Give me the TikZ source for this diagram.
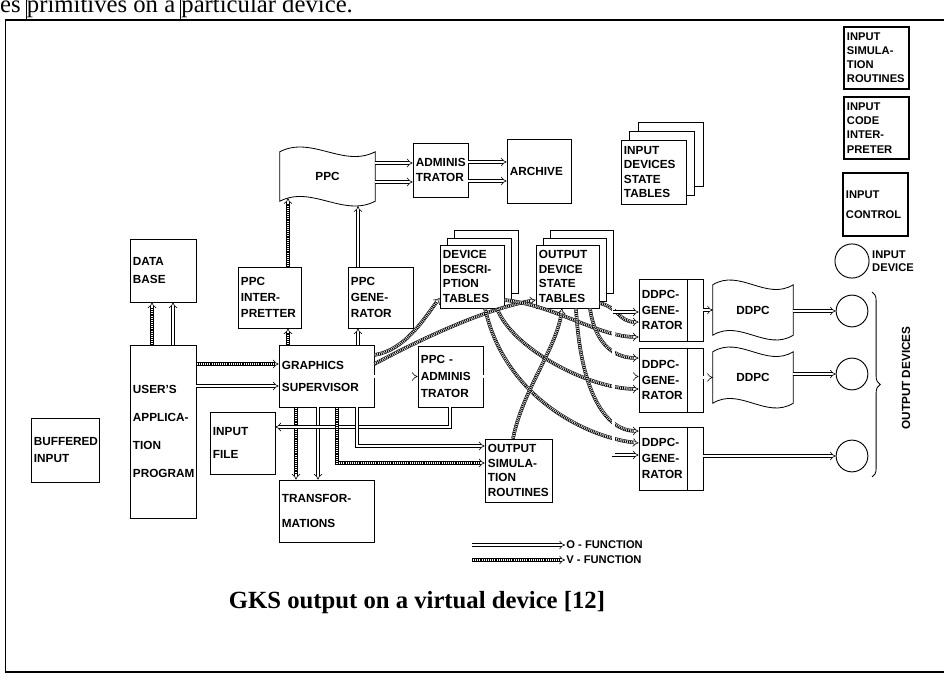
\documentclass[tikz,border=0pt]{standalone}
\usepackage{fontspec}
\setmainfont{Liberation Serif}
\setsansfont{Liberation Sans}
\usetikzlibrary{arrows.meta,calc,shadows,decorations.pathreplacing}

\newcommand{\boxfont}{\sffamily\bfseries\fontsize{10}{12.3}\selectfont}
\newcommand{\sideboxfont}{\sffamily\bfseries\fontsize{9.5}{12}\selectfont}
\newcommand{\legendfont}{\sffamily\bfseries\fontsize{9.5}{11}\selectfont}

% wavy outline of a paper tape (PPC, DDPC)
\newcommand{\tapeoutline}[1]{%
  \draw[line width=0.7pt] let \p1=(#1.north west), \p2=(#1.south east), \n1={(\x2-\x1)/3} in
    (\p1) .. controls (\x1+\n1,\y1+14pt) and (\x2-\n1,\y1-14pt) .. (\x2,\y1)
    -- (\p2) .. controls (\x2-\n1,\y2-14pt) and (\x1+\n1,\y2+14pt) .. (\x1,\y2) -- cycle;}

\tikzset{
  box/.style={draw, line width=0.7pt, fill=white, inner xsep=2.5pt, inner ysep=0pt, align=left, font=\boxfont},
  boxdim/.code 2 args={%
    \pgfmathsetlengthmacro\boxw{#1*0.85pt-5pt}%
    \pgfmathsetlengthmacro\boxh{#2*0.85pt}%
    \tikzset{text width=\boxw, minimum height=\boxh}},
  sidebox/.style={box, line width=1pt, font=\sideboxfont},
  stack/.style 2 args={box, copy shadow={shadow xshift=#2, shadow yshift=#2},
    copy shadow={shadow xshift=#1, shadow yshift=#1}},
  tape/.style={inner xsep=2.5pt, inner ysep=0pt, align=center, font=\boxfont},
  dev/.style={circle, draw, line width=0.8pt, inner sep=0pt, minimum size=27pt},
  ofun/.style={draw, line width=0.5pt, double, double distance=2pt, -{Implies}},
  vfun/.style={ofun, postaction={draw, -, line width=2pt, dash pattern=on 0.8pt off 0.8pt, shorten >=4pt}}
}

\begin{document}
\begin{tikzpicture}[x=0.85pt,y=-0.85pt]
  \fill[white] (0,0) rectangle (944,681);
  \useasboundingbox (0,0) rectangle (944,681);

  % page around the figure
  \node[font=\fontsize{21}{23}\selectfont, anchor=base west, inner sep=0pt] (prevline) at (0,13) {es primitives on a particular device.};
  \draw[line width=0.6pt] (26,0) -- (26,20) (180,0) -- (180,20);
  \draw[line width=1.2pt] (5,20) -- (944,20);
  \draw[line width=0.8pt] (5,20) -- (5,672);
  \draw[line width=1.2pt] (5,672) -- (944,672);

  % input side
  \node[sidebox, boxdim={65}{62}] (insim) at (876.5,58) {INPUT\\SIMULA-\\TION\\ROUTINES};
  \node[sidebox, boxdim={65}{62}] (incode) at (876.5,128) {INPUT\\CODE\\INTER-\\PRETER};
  \node[sidebox, boxdim={65}{63}] (inctrl) at (875.5,204.5) {INPUT\\[5pt]CONTROL};
  \node[dev, minimum size=29pt] (indev) at (852,261) {};
  \node[font=\sffamily\bfseries\fontsize{9.5}{11}\selectfont, align=left, anchor=west, inner sep=0pt] (indevtext) at (872,261) {INPUT\\DEVICE};
  \node[stack={7.5pt}{15pt}, boxdim={65}{64}] (idst) at (653.5,172) {INPUT\\DEVICES\\STATE\\TABLES};
  \node[box, boxdim={68}{64}] (buff) at (65,450) {BUFFERED\\[2pt]INPUT};

  % picture part
  \node[tape, boxdim={95}{49}] (ppc) at (327.5,176.5) {PPC};
  \tapeoutline{ppc}
  \node[box, boxdim={55}{54}] (adm) at (440.5,170) {ADMINIS\\TRATOR};
  \node[box, boxdim={64}{64}] (arch) at (539,171) {ARCHIVE};
  \node[box, boxdim={66}{63}] (base) at (163,270.5) {DATA\\[3.5pt]BASE};
  \node[box, boxdim={63}{61}] (pint) at (269.5,297.5) {PPC\\[1.5pt]INTER-\\[1.5pt]PRETTER};
  \node[box, boxdim={65}{61}] (pgen) at (380.5,297.5) {PPC\\[1.5pt]GENE-\\[1.5pt]RATOR};
  \node[box, boxdim={66}{173}] (user) at (163,431.5) {USER'S\\[11.5pt]APPLICA-\\[11.5pt]TION\\[11.5pt]PROGRAM};
  \node[box, boxdim={95}{62}] (gs) at (326.5,376) {GRAPHICS\\[6.4pt]SUPERVISOR};
  \node[box, boxdim={65}{61}] (padm) at (450.5,376.5) {PPC -\\[2.5pt]ADMINIS\\[2.5pt]TRATOR};
  \node[box, boxdim={65}{62}] (ifile) at (242.5,443) {INPUT\\[7.7pt]FILE};
  \node[box, boxdim={95}{62}] (transf) at (326.5,511) {TRANSFOR-\\[8.7pt]MATIONS};
  \node[box, boxdim={67}{63}] (osim) at (518.5,470.5) {OUTPUT\\SIMULA-\\TION\\ROUTINES};
  \node[stack={6pt}{12pt}, boxdim={64}{63}] (ddt) at (472,276.5) {DEVICE\\DESCRI-\\PTION\\TABLES};
  \node[stack={6pt}{12pt}, boxdim={63}{63}] (odst) at (567.5,276.5) {OUTPUT\\DEVICE\\STATE\\TABLES};

  % device part
  \node[box, boxdim={64}{62}] (gen1) at (671,310) {DDPC-\\[1pt]GENE-\\[1pt]RATOR};
  \node[box, boxdim={64}{64}] (gen2) at (671,380) {DDPC-\\[1pt]GENE-\\[1pt]RATOR};
  \node[box, boxdim={64}{63}] (gen3) at (671,458.5) {DDPC-\\[1pt]GENE-\\[1pt]RATOR};
  \foreach \g in {gen1,gen2,gen3}
    \draw[line width=0.7pt] ([xshift=-13.6pt]\g.north east) -- ([xshift=-13.6pt]\g.south east);
  \node[tape, boxdim={80}{50}] (ddpc1) at (753,310) {DDPC};
  \tapeoutline{ddpc1}
  \node[tape, boxdim={80}{51}] (ddpc2) at (753,377.5) {DDPC};
  \tapeoutline{ddpc2}
  \node[dev] (dev1) at (852,311) {};
  \node[dev] (dev2) at (852,374) {};
  \node[dev] (dev3) at (852,456) {};
  \draw[line width=0.7pt, decorate, decoration={brace, amplitude=7pt}] (872,292) -- (872,477);
  \node[font=\boxfont, rotate=90] (outdev) at (906,378) {OUTPUT DEVICES};

  % archive
  \draw[ofun] (ppc.east |- 0,163) -- (adm.west |- 0,163);
  \draw[ofun] (ppc.east |- 0,182) -- (adm.west |- 0,182);
  \draw[ofun] (adm.east |- 0,162) -- (arch.west |- 0,162);
  \draw[ofun] (adm.east |- 0,181) -- (arch.west |- 0,181);

  % supervisor and ppc
  \draw[vfun] (gs.north -| 288,0) -- (pint.south -| 288,0);
  \draw[vfun] (pint.north -| 288,0) -- ($(ppc.south -| 288,0)+(0,-3)$);
  \draw[ofun] (gs.north -| 358,0) -- (pgen.south -| 358,0);
  \draw[ofun] (pgen.north -| 358,0) -- ($(ppc.south -| 358,0)+(0,5)$);
  \draw[vfun] (user.north -| 152,0) -- (base.south -| 152,0);
  \draw[ofun] (user.north -| 173,0) -- (base.south -| 173,0);
  \draw[vfun] (user.east |- 0,364) -- (gs.west |- 0,364);
  \draw[ofun] (user.east |- 0,386) -- (gs.west |- 0,386);
  \draw[vfun] (gs.south -| 296,0) -- (transf.north -| 296,0);
  \draw[ofun] (gs.south -| 318,0) -- (transf.north -| 318,0);
  \draw[ofun] (gs.east |- padm.west) -- (padm.west);
  \draw[ofun] (padm.east) -- (gen2.west |- padm.east);
  \draw[ofun] (padm.south -| 450,0) |- (ifile.east |- 0,427);
  \draw[ofun] (gs.south -| 357,0) |- (osim.west |- 0,446);
  \draw[vfun] (gs.south -| 337,0) |- (osim.west |- 0,463);

  % tables
  \draw[vfun] (gs.east |- 0,355) .. controls +(31,-5) and +(-15,20) .. (ddt.west |- 0,298);
  \draw[vfun] (gs.east |- 0,364) .. controls +(56,-30) and +(-46,8) .. (odst.west |- 0,300);
  \draw[vfun] (ddt.east |- 0,300) .. controls +(50,5) and +(-40,0) .. (gen1.west |- 0,337);
  \draw[vfun] (ddt.south -| 497,0) .. controls +(15,40) and +(-50,0) .. (gen2.west |- 0,389);
  \draw[vfun] (ddt.south -| 485,0) .. controls +(20,90) and +(-50,-5) .. (gen3.west |- 0,443);
  \draw[vfun] (odst.east |- 0,303) .. controls +(20,5) and +(-20,0) .. (gen1.west |- 0,322);
  \draw[vfun] (odst.south -| 590,0) .. controls +(5,35) and +(-25,0) .. (gen2.west |- 0,358);
  \draw[vfun] (odst.south -| 576,0) .. controls +(5,90) and +(-30,0) .. (gen3.west |- 0,431);
  \draw[vfun] (osim.north -| 513,0) .. controls +(10,-50) and +(-5,40) .. (odst.south -| 562,0);

  % generators and devices
  \coordinate (bustop) at ($(odst.south east)+(14,-14)$);
  \draw[ofun] (bustop) |- (gen3.west |- 0,455);
  \draw[ofun] (bustop |- 0,312) -- (gen1.west |- 0,312);
  \draw[ofun] (gen1.east) -- (ddpc1.west);
  \draw[ofun] (gen2.east |- ddpc2.west) -- (ddpc2.west);
  \draw[ofun] (ddpc1.east |- dev1.west) -- (dev1.west);
  \draw[ofun] (ddpc2.east |- dev2.west) -- (dev2.west);
  \draw[ofun] (gen3.east |- dev3.west) -- (dev3.west);

  % legend and caption
  \node[font=\legendfont, anchor=west, inner sep=1pt] (ofn) at (565,545) {O - FUNCTION};
  \node[font=\legendfont, anchor=west, inner sep=1pt] (vfn) at (565,560) {V - FUNCTION};
  \coordinate (ostart) at (472,545);
  \coordinate (vstart) at (472,560);
  \draw[ofun] (ostart) -- (ofn.west);
  \draw[vfun] (vstart) -- (vfn.west);
  \node[font=\fontsize{21}{25}\selectfont\bfseries] (caption) at (417,603) {GKS output on a virtual device [12]};
\end{tikzpicture}
\end{document}
